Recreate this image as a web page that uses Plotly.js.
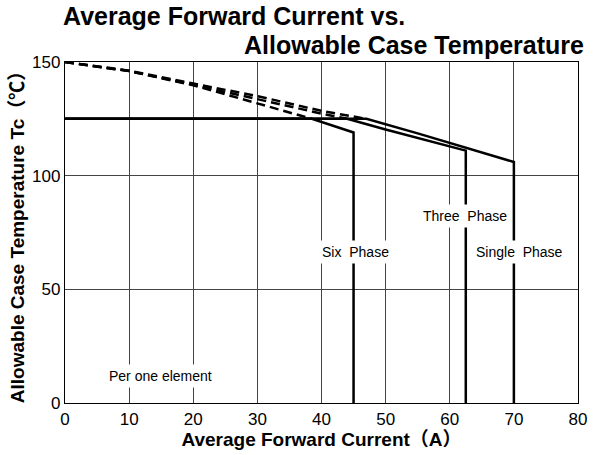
<!DOCTYPE html>
<html>
<head>
<meta charset="utf-8">
<script src="https://cdn.plot.ly/plotly-3.0.1.min.js"></script>
<style>html,body{margin:0;padding:0;background:#fff;}#chart{width:594px;height:455px;}</style>
</head>
<body>
<div id="chart"></div>
<script>
// Data
const sixDashX   = [0, 10, 20, 30, 38.5];
const sixDashY   = [150, 146, 139.8, 131.7, 125];
const sixSolidX  = [0, 38.5, 45, 45];
const sixSolidY  = [125, 125, 119, 0];

const threeDashX  = [0, 10, 20, 30, 40, 44];
const threeDashY  = [150, 146, 140, 133.5, 127.3, 125];
const threeSolidX = [0, 44, 50, 62.5, 62.5];
const threeSolidY = [125, 125, 120.3, 111, 0];

const singleDashX  = [0, 10, 20, 30, 40, 47];
const singleDashY  = [150, 146.2, 140.5, 135, 128.5, 125];
const singleSolidX = [0, 47, 55, 70, 70];
const singleSolidY = [125, 125, 118.6, 106, 0];

const xTicks = [0, 10, 20, 30, 40, 50, 60, 70, 80];
const yTicks = [0, 50, 100, 150];

const dashLine  = {color:'#000', width:2.5, dash:'9px,5px'};
const solidLine = {color:'#000', width:2.5};

function tr(x, y, line){ return {x:x, y:y, mode:'lines', line:line, hoverinfo:'skip', cliponaxis:false}; }

const data = [
  tr(sixDashX, sixDashY, dashLine),
  tr(threeDashX, threeDashY, dashLine),
  tr(singleDashX, singleDashY, dashLine),
  tr(sixSolidX, sixSolidY, solidLine),
  tr(threeSolidX, threeSolidY, solidLine),
  tr(singleSolidX, singleSolidY, solidLine)
];

const tickFont = {family:'"Liberation Sans Narrow", "Liberation Sans", Arial, sans-serif', size:17, color:'#000'};
const titleFont = {family:'"Liberation Sans", Arial, "Noto Sans CJK JP", sans-serif', size:19, color:'#000', weight:'bold'};
const labelFont = {family:'"Liberation Sans", Arial, sans-serif', size:14, color:'#000'};
const headFont = {family:'"Liberation Sans", Arial, sans-serif', size:25, color:'#000', weight:'bold'};

function lab(text, x, y){
  return {text:text, x:x, y:y, xref:'x', yref:'y', showarrow:false, font:labelFont,
          bgcolor:'#fff', borderpad:3, xanchor:'center', yanchor:'middle'};
}

const layout = {
  width:594, height:455,
  margin:{l:65, r:16, t:62, b:52},
  paper_bgcolor:'#fff', plot_bgcolor:'#fff',
  showlegend:false,
  xaxis:{
    range:[0,80], tickvals:xTicks, ticktext:xTicks.map(String),
    showgrid:true, gridcolor:'#444', gridwidth:1, zeroline:false,
    showline:true, linecolor:'#000', linewidth:1.2, mirror:true, ticks:'',
    tickfont:tickFont,
    title:{text:'Average Forward Current（A）', font:titleFont, standoff:1}
  },
  yaxis:{
    range:[0,150], tickvals:yTicks, ticktext:yTicks.map(String),
    showgrid:true, gridcolor:'#444', gridwidth:1, zeroline:false,
    showline:true, linecolor:'#000', linewidth:1.2, mirror:true, ticks:'',
    tickfont:tickFont, ticklabelstandoff:0,
    title:{text:'Allowable Case Temperature Tc（℃）', font:titleFont, standoff:2}
  },
  annotations:[
    {text:'Average Forward Current vs.', xref:'paper', yref:'paper', x:-0.008, y:1.135,
     xanchor:'left', yanchor:'middle', showarrow:false, font:headFont},
    {text:'Allowable Case Temperature', xref:'paper', yref:'paper', x:1.016, y:1.05,
     xanchor:'right', yanchor:'middle', showarrow:false, font:headFont},
    lab('Six&nbsp;&nbsp;Phase', 45.3, 66.4),
    lab('Three&nbsp;&nbsp;Phase', 62.3, 82.2),
    lab('Single&nbsp;&nbsp;Phase', 70.8, 66.4),
    lab('Per one element', 14.9, 12)
  ]
};

Plotly.newPlot('chart', data, layout, {staticPlot:true, displayModeBar:false});
</script>
</body>
</html>
